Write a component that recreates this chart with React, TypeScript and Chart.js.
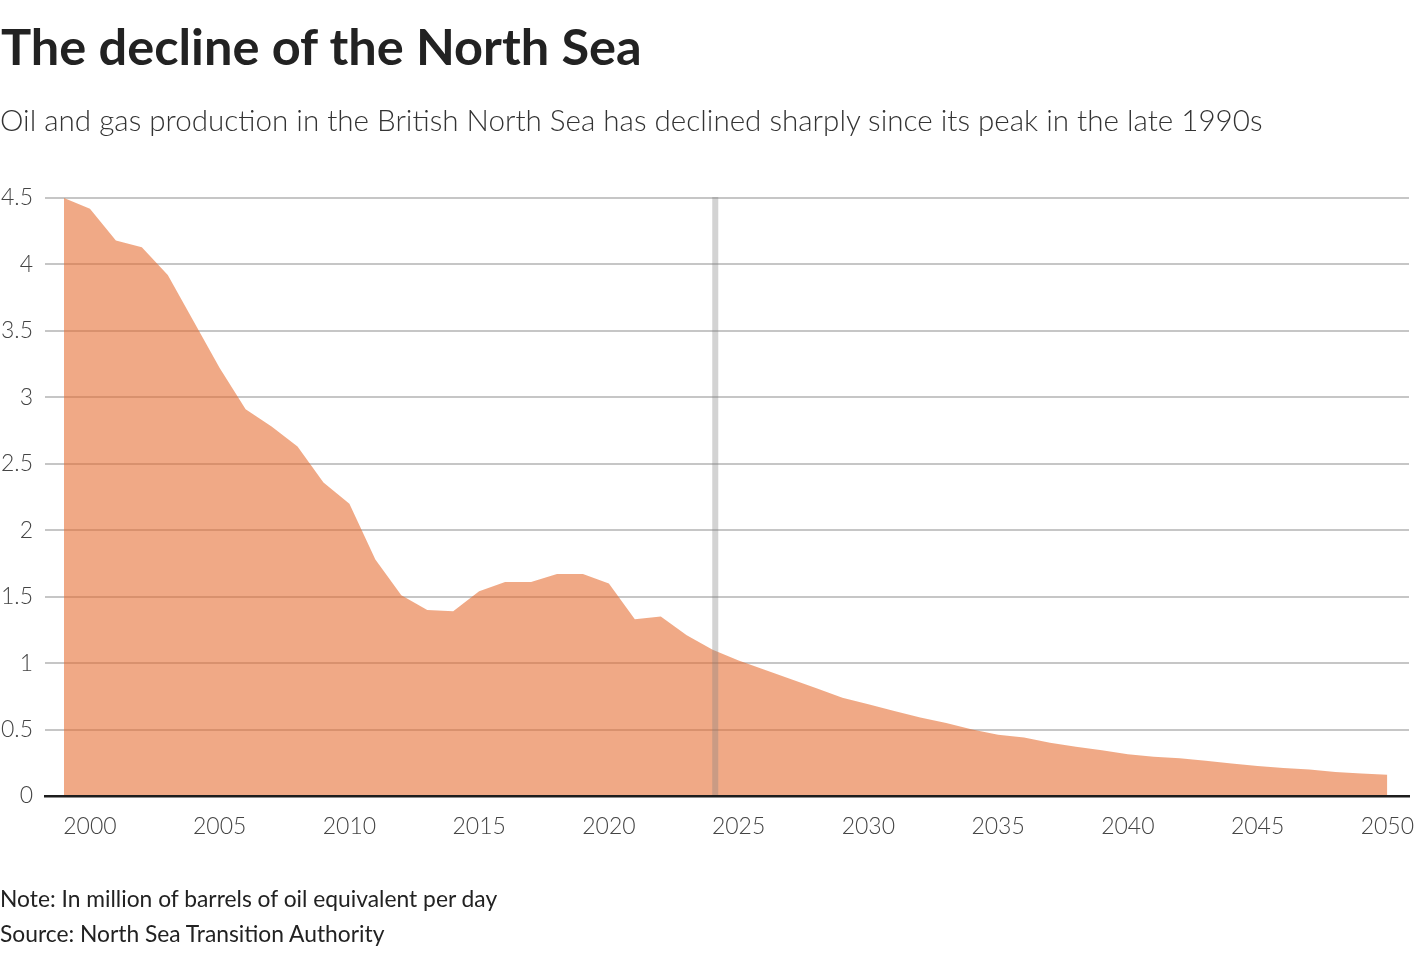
import React, { useEffect, useRef } from "react";
import { Chart, registerables } from "chart.js";

Chart.register(...registerables);

const years: number[] = [
  1999, 2000, 2001, 2002, 2003, 2004, 2005, 2006, 2007, 2008, 2009, 2010,
  2011, 2012, 2013, 2014, 2015, 2016, 2017, 2018, 2019, 2020, 2021, 2022,
  2023, 2024, 2025, 2026, 2027, 2028, 2029, 2030, 2031, 2032, 2033, 2034,
  2035, 2036, 2037, 2038, 2039, 2040, 2041, 2042, 2043, 2044, 2045, 2046,
  2047, 2048, 2049, 2050,
];

const production: number[] = [
  4.5, 4.42, 4.18, 4.13, 3.92, 3.57, 3.22, 2.91, 2.78, 2.63, 2.36, 2.2,
  1.78, 1.51, 1.4, 1.39, 1.54, 1.61, 1.61, 1.67, 1.67, 1.6, 1.33, 1.35,
  1.21, 1.1, 1.02, 0.95, 0.88, 0.81, 0.74, 0.69, 0.64, 0.59, 0.55, 0.5,
  0.46, 0.44, 0.4, 0.37, 0.345, 0.315, 0.295, 0.285, 0.265, 0.245, 0.225, 0.21,
  0.2, 0.18, 0.17, 0.16,
];

const xTickYears: number[] = [2000, 2005, 2010, 2015, 2020, 2025, 2030, 2035, 2040, 2045, 2050];
const yTickValues: number[] = [0, 0.5, 1, 1.5, 2, 2.5, 3, 3.5, 4, 4.5];
const markerYear = 2024.1;

const TITLE = "The decline of the North Sea";
const SUBTITLE =
  "Oil and gas production in the British North Sea has declined sharply since its peak in the late 1990s";
const NOTE = "Note: In million of barrels of oil equivalent per day";
const SOURCE = "Source: North Sea Transition Authority";

const FONT = "Lato, 'Open Sans', sans-serif";

const markerLinePlugin = {
  id: "markerLine",
  afterDatasetsDraw(chart: any) {
    const { ctx, chartArea, scales } = chart;
    const x = scales.x.getPixelForValue(markerYear);
    ctx.save();
    ctx.strokeStyle = "rgba(128,128,128,0.35)";
    ctx.lineWidth = 6;
    ctx.beginPath();
    ctx.moveTo(x, chartArea.top - 1);
    ctx.lineTo(x, chartArea.bottom);
    ctx.stroke();
    ctx.restore();
  },
};

export default function App() {
  const canvasRef = useRef<HTMLCanvasElement | null>(null);

  useEffect(() => {
    document.body.style.margin = "0";
    const canvas = canvasRef.current;
    if (!canvas) return;
    const points = years.map((y, i) => ({ x: y, y: production[i] }));
    const chart = new Chart(canvas, {
      type: "line",
      data: {
        datasets: [
          {
            data: points,
            fill: "origin",
            backgroundColor: "rgba(230,109,50,0.59)",
            borderWidth: 0,
            pointRadius: 0,
            tension: 0,
          },
        ],
      },
      options: {
        animation: false,
        responsive: false,
        events: [],
        layout: { padding: { left: 0, right: 11, top: 198, bottom: 108 } },
        plugins: {
          legend: { display: false },
          tooltip: { enabled: false },
        },
        scales: {
          x: {
            type: "linear",
            min: 1998.268,
            max: 2050.836,
            afterBuildTicks(scale: any) {
              scale.ticks = xTickYears.map((v) => ({ value: v }));
            },
            afterFit(scale: any) {
              scale.height = 50;
              scale.paddingLeft = 0;
              scale.paddingRight = 0;
            },
            grid: { display: false, drawTicks: false },
            border: { display: true, color: "#1d1d1d", width: 2.5, z: 1 },
            ticks: {
              padding: 17,
              color: "#444",
              font: { family: FONT, size: 23, weight: "300" },
              maxRotation: 0,
              autoSkip: false,
              callback: (v: any) => String(v),
            },
          },
          y: {
            min: 0,
            max: 4.5,
            afterBuildTicks(scale: any) {
              scale.ticks = yTickValues.map((v) => ({ value: v }));
            },
            afterFit(scale: any) {
              scale.width = 45;
              scale.paddingTop = 0;
              scale.paddingBottom = 0;
            },
            grid: {
              drawTicks: false,
              lineWidth: 2,
              color: (c: any) => (c.tick && c.tick.value === 0 ? "rgba(0,0,0,0)" : "#c6c6c6"),
            },
            border: { display: false },
            ticks: {
              padding: 12,
              color: "#444",
              font: { family: FONT, size: 23, weight: "300" },
              callback: (v: any) => String(v),
            },
          },
        },
      },
      plugins: [markerLinePlugin],
    });
    return () => chart.destroy();
  }, []);

  return (
    <div style={{ position: "relative", width: 1420, height: 954, overflow: "hidden", background: "#fff" }}>
      <canvas ref={canvasRef} width={1420} height={954} style={{ position: "absolute", left: 0, top: 0, display: "block" }} />
      <div
        style={{
          position: "absolute",
          left: 1,
          top: 21,
          fontFamily: FONT,
          fontWeight: 700,
          fontSize: 50.5,
          lineHeight: "50.5px",
          color: "#222",
          whiteSpace: "nowrap",
        }}
      >
        {TITLE}
      </div>
      <div
        style={{
          position: "absolute",
          left: 0,
          top: 105,
          fontFamily: FONT,
          fontWeight: 300,
          fontSize: 29.6,
          lineHeight: "29.6px",
          color: "#333",
          whiteSpace: "nowrap",
        }}
      >
        {SUBTITLE}
      </div>
      <div
        style={{
          position: "absolute",
          left: 0,
          top: 886.5,
          fontFamily: FONT,
          fontWeight: 400,
          fontSize: 22.8,
          lineHeight: "22.8px",
          color: "#222",
          whiteSpace: "nowrap",
        }}
      >
        {NOTE}
      </div>
      <div
        style={{
          position: "absolute",
          left: 0,
          top: 922,
          fontFamily: FONT,
          fontWeight: 400,
          fontSize: 22.8,
          lineHeight: "22.8px",
          color: "#222",
          whiteSpace: "nowrap",
        }}
      >
        {SOURCE}
      </div>
    </div>
  );
}
